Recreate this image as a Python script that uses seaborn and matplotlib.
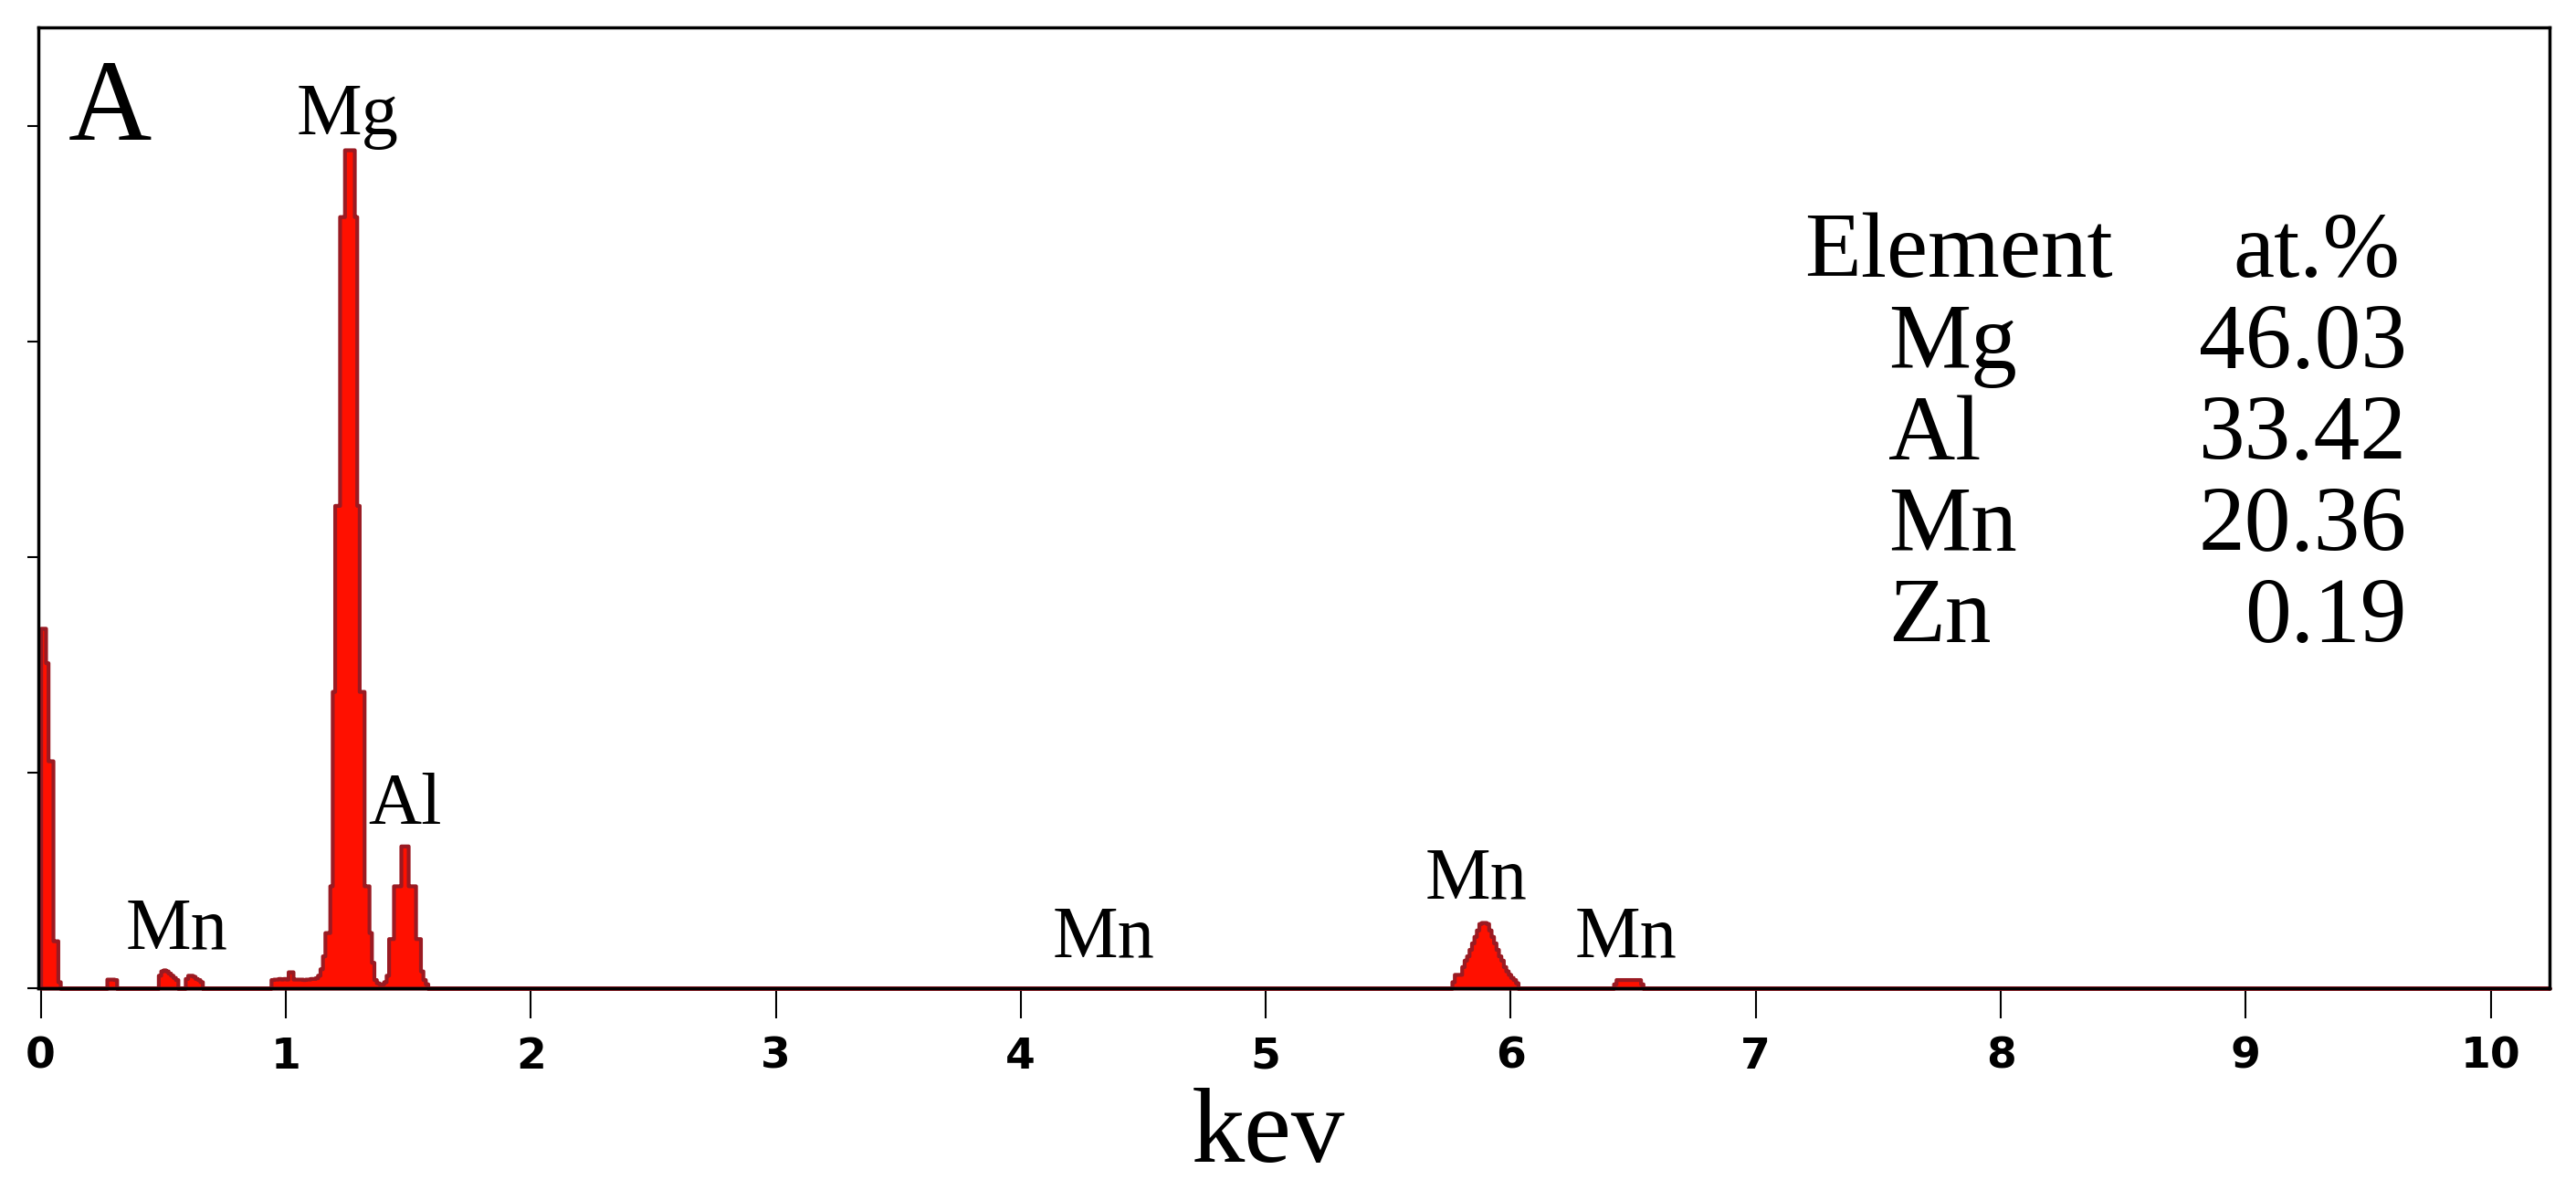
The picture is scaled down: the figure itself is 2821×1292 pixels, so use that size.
import numpy as np
import pandas as pd
import matplotlib
matplotlib.use("Agg")
import matplotlib.pyplot as plt
import seaborn as sns

# EDS spectrum, 10 eV channels: channel start (keV) and counts
zero_kev    = [0.00, 0.01, 0.02, 0.03, 0.04, 0.05, 0.06, 0.07]
zero_counts = [1670, 1670, 1510, 1055, 1055, 220, 220, 30]

low_kev    = [0.27, 0.28, 0.29, 0.30, 0.48, 0.49, 0.50, 0.51, 0.52, 0.53, 0.54, 0.55,
              0.59, 0.60, 0.61, 0.62, 0.63, 0.64, 0.65]
low_counts = [42, 42, 42, 40, 60, 80, 85, 80, 70, 60, 50, 40,
              45, 60, 60, 55, 45, 40, 30]

plateau_kev    = [0.94, 0.95, 0.96, 0.97, 0.98, 0.99, 1.00, 1.01, 1.02, 1.03, 1.04,
                  1.05, 1.06, 1.07, 1.08, 1.09, 1.10, 1.11, 1.12, 1.13, 1.14]
plateau_counts = [40, 42, 42, 45, 42, 45, 42, 76, 76, 42, 42,
                  42, 42, 40, 42, 42, 45, 45, 48, 60, 90]

mg_kev    = [1.15, 1.16, 1.17, 1.18, 1.19, 1.20, 1.21, 1.22, 1.23, 1.24, 1.25,
             1.26, 1.27, 1.28, 1.29, 1.30, 1.31, 1.32, 1.33, 1.34, 1.35, 1.36]
mg_counts = [150, 258, 258, 475, 1377, 2240, 2240, 3580, 3580, 3890, 3890,
             3890, 3890, 3580, 2240, 1377, 1377, 475, 475, 258, 120, 40]

al_kev    = [1.37, 1.38, 1.39, 1.40, 1.41, 1.42, 1.43, 1.44, 1.45, 1.46, 1.47,
             1.48, 1.49, 1.50, 1.51, 1.52, 1.53, 1.54, 1.55, 1.56, 1.57]
al_counts = [25, 20, 20, 30, 60, 230, 230, 475, 475, 475, 660,
             660, 660, 475, 475, 475, 230, 230, 80, 40, 20]

mnka_kev    = [5.76, 5.77, 5.78, 5.79, 5.80, 5.81, 5.82, 5.83, 5.84, 5.85, 5.86, 5.87, 5.88, 5.89,
               5.90, 5.91, 5.92, 5.93, 5.94, 5.95, 5.96, 5.97, 5.98, 5.99, 6.00, 6.01, 6.02]
mnka_counts = [30, 64, 64, 64, 100, 130, 150, 180, 210, 240, 270, 300, 305, 305,
               300, 270, 240, 210, 180, 150, 130, 100, 80, 64, 50, 40, 25]

mnkb_kev    = [6.42, 6.43, 6.44, 6.45, 6.46, 6.47, 6.48, 6.49, 6.50, 6.51, 6.52, 6.53]
mnkb_counts = [20, 40, 40, 40, 40, 40, 40, 40, 40, 40, 40, 20]

# peak labels
peak_names = ['Mg', 'Al', 'Mn', 'Mn', 'Mn', 'Mn']
peak_x     = [1.254, 1.485, 0.557, 4.34, 5.86, 6.47]
peak_y     = [3962, 763, 186, 148, 419, 148]

# composition table
elements = ['Mg', 'Al', 'Mn', 'Zn']
at_pct   = ['46.03', '33.42', '20.36', '0.19']

x_ticks = [0, 1, 2, 3, 4, 5, 6, 7, 8, 9, 10]

spec = pd.DataFrame({
    'kev': np.concatenate([zero_kev, low_kev, plateau_kev, mg_kev, al_kev, mnka_kev, mnkb_kev]),
    'counts': np.concatenate([zero_counts, low_counts, plateau_counts, mg_counts,
                              al_counts, mnka_counts, mnkb_counts]),
})
spec['kev'] = spec['kev'] + 0.005  # channel centres

sns.set_style("ticks")
plt.rcParams['font.family'] = ['Liberation Serif', 'DejaVu Serif']
plt.rcParams['text.color'] = 'black'
plt.rcParams['axes.labelcolor'] = 'black'
plt.rcParams['xtick.color'] = 'black'
plt.rcParams['ytick.color'] = 'black'

W, H = 2821, 1292
fig = plt.figure(figsize=(W / 100, H / 100), dpi=100)
L, R, T, B = 42, 2792, 30, 1082
ax = fig.add_axes([L / W, 1 - B / H, (R - L) / W, (B - T) / H])

sns.histplot(data=spec, x='kev', weights='counts', binwidth=0.01, binrange=(0, 10.24),
             element='step', fill=True, alpha=1, color='#ff1000',
             edgecolor='#9a1a22', linewidth=3, ax=ax)
for c in ax.collections:
    c.set_clip_on(False)

ax.set_xlim(-0.0097, 10.24)
ax.set_ylim(0, 4458)
ax.set_ylabel('')
ax.set_yticks([0, 1000, 2000, 3000, 4000])
ax.set_xticks(x_ticks)
ax.set_xticklabels([str(t) for t in x_ticks], fontfamily='DejaVu Sans',
                   fontweight='bold', fontsize=34)
ax.tick_params(axis='x', direction='out', length=24, width=1.5, pad=14)
ax.tick_params(axis='y', direction='out', length=9, width=1.5, labelleft=False)
for s in ax.spines.values():
    s.set_linewidth(2.5)
    s.set_color('black')
    s.set_zorder(5)

ax.set_xlabel('kev', fontsize=84)
ax.xaxis.label.set_va('baseline')
ax.xaxis.set_label_coords((1389 - L) / (R - L), (B - 1272) / (B - T))

# panel letter
ax.text((120 - L) / (R - L), (B - 153) / (B - T), 'A', transform=ax.transAxes,
        ha='center', va='baseline', fontsize=91)

for name, px, py in zip(peak_names, peak_x, peak_y):
    ax.text(px, py, name, ha='center', va='baseline', fontsize=58)

# table of atomic percentages
fs = 73
fig.text(1976 / W, 1 - 303 / H, 'Element', ha='left', va='baseline', fontsize=fs)
fig.text(2628 / W, 1 - 303 / H, 'at.%', ha='right', va='baseline', fontsize=fs)
for i, (el, v) in enumerate(zip(elements, at_pct)):
    yb = 403 + 100 * i
    fig.text(2068 / W, 1 - yb / H, el, ha='left', va='baseline', fontsize=fs)
    fig.text(2636 / W, 1 - yb / H, v, ha='right', va='baseline', fontsize=fs)

fig.savefig('out.png', dpi=100)
